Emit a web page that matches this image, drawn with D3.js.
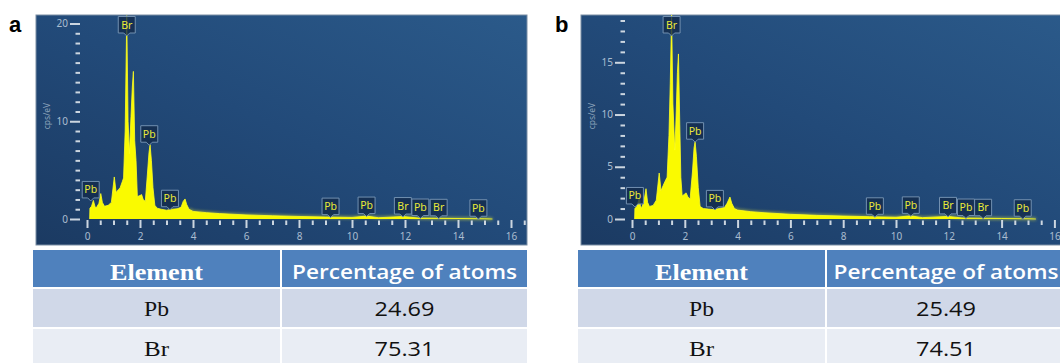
<!DOCTYPE html>
<html>
<head>
<meta charset="utf-8">
<script src="https://cdn.jsdelivr.net/npm/d3@7"></script>
<style>
  body { margin: 0; background: #fff; }
  svg { display: block; }
</style>
</head>
<body>
<svg id="chart" width="1060" height="363"></svg>
<script>
// spectrum a (keV / cps per eV)
const energyA = [0.10, 0.11, 0.17, 0.24, 0.30, 0.34, 0.45, 0.52, 0.58, 0.66, 0.80, 0.92, 1.03, 1.10, 1.18, 1.25, 1.33, 1.38,
  1.44, 1.50, 1.55, 1.60, 1.66, 1.71, 1.75, 1.80, 1.85, 1.90, 2.00, 2.06, 2.12, 2.20, 2.28, 2.34, 2.38, 2.43, 2.49, 2.56,
  2.65, 2.80, 3.00, 3.20, 3.40, 3.55, 3.63, 3.70, 3.76, 3.85, 4.00, 4.50, 5.00, 6.00, 7.00, 8.00, 9.00, 10.0, 10.55, 11.0,
  11.92, 12.5, 13.0, 14.0, 15.0, 15.3];
const cpsA = [0, 1.1, 1.3, 1.9, 1.3, 1.1, 1.6, 2.6, 1.7, 1.3, 1.4, 1.7, 4.3, 2.7, 3.0, 3.2, 3.8, 4.2,
  9.0, 20.8, 10.0, 6.7, 10.5, 13.5, 15.1, 8.0, 6.0, 2.3, 2.4, 2.5, 2.0, 1.8, 4.6, 6.8, 7.6, 6.0, 3.2, 1.4,
  1.1, 1.0, 0.9, 1.0, 1.05, 1.2, 1.8, 2.05, 1.5, 1.0, 0.78, 0.65, 0.55, 0.42, 0.33, 0.26, 0.2, 0.16, 0.3, 0.13,
  0.25, 0.1, 0.08, 0.05, 0.02, 0];

// spectrum b
const energyB = [0.10, 0.11, 0.18, 0.28, 0.32, 0.36, 0.46, 0.53, 0.59, 0.66, 0.80, 0.92, 1.03, 1.10, 1.18, 1.25, 1.33, 1.40,
  1.45, 1.50, 1.55, 1.62, 1.66, 1.72, 1.76, 1.81, 1.85, 1.90, 2.00, 2.05, 2.12, 2.20, 2.29, 2.35, 2.39, 2.44, 2.51, 2.58,
  2.70, 2.90, 3.10, 3.30, 3.50, 3.60, 3.71, 3.78, 3.88, 4.00, 4.50, 5.00, 6.00, 7.00, 8.00, 9.00, 10.0, 10.56, 11.0,
  11.97, 12.5, 13.0, 14.0, 15.0, 15.3];
const cpsB = [0, 1.0, 1.2, 2.0, 1.3, 1.0, 1.8, 2.9, 1.6, 1.2, 1.3, 1.8, 4.4, 2.7, 3.2, 3.6, 4.0, 8.0,
  13.0, 19.6, 11.0, 6.6, 9.0, 14.0, 15.8, 9.0, 4.0, 2.2, 2.4, 2.5, 2.1, 1.9, 4.5, 6.8, 7.4, 6.0, 3.0, 1.2,
  1.0, 0.95, 0.9, 1.0, 1.1, 1.5, 2.1, 1.5, 1.0, 0.85, 0.7, 0.6, 0.45, 0.35, 0.28, 0.22, 0.17, 0.3, 0.13,
  0.25, 0.1, 0.08, 0.05, 0.02, 0];

// peak labels
const peakElements = ['Pb', 'Br', 'Pb', 'Pb', 'Pb', 'Pb', 'Br', 'Pb', 'Br', 'Pb'];
const peakEnergiesA = [0.14, 1.50, 2.35, 3.13, 9.19, 10.55, 11.92, 12.58, 13.27, 14.77];
const peakEnergiesB = [0.11, 1.50, 2.39, 3.14, 9.20, 10.56, 11.97, 12.65, 13.30, 14.80];

// ticks
const xTickLabels = [0, 2, 4, 6, 8, 10, 12, 14, 16];
const yTicksA = [0, 10, 20];
const yTicksB = [0, 5, 10, 15];

// table
const tableHeader = ['Element', 'Percentage of atoms'];
const tableElements = ['Pb', 'Br'];
const percentA = ['24.69', '75.31'];
const percentB = ['25.49', '74.51'];

const svg = d3.select('#chart');
const defs = svg.append('defs');

const grad = defs.append('linearGradient')
  .attr('id', 'bg')
  .attr('x1', 0).attr('y1', 1).attr('x2', 1).attr('y2', 0);
grad.append('stop').attr('offset', 0).attr('stop-color', '#1b3a62');
grad.append('stop').attr('offset', 0.5).attr('stop-color', '#224a79');
grad.append('stop').attr('offset', 1).attr('stop-color', '#2b5a8a');

const glow = defs.append('filter').attr('id', 'glow')
  .attr('x', '-10%').attr('y', '-50%').attr('width', '120%').attr('height', '200%');
glow.append('feGaussianBlur').attr('stdDeviation', 1.4);

const panels = [
  { letter: 'a', letterX: 9, left: 36, right: 527, top: 15, bottom: 245,
    xRange: [87, 511], yDomain: [0, 20], yRange: [219, 23.5], yTicks: yTicksA,
    energy: energyA, cps: cpsA, peaks: peakEnergiesA,
    tLeft: 33, tSplit: 281, tRight: 527, col2Center: 404.5, percent: percentA },
  { letter: 'b', letterX: 555, left: 581, right: 1072, top: 15, bottom: 245,
    xRange: [632, 1054.4], yDomain: [0, 15], yRange: [219, 62.3], yTicks: yTicksB,
    energy: energyB, cps: cpsB, peaks: peakEnergiesB,
    tLeft: 578, tSplit: 826, tRight: 1072, col2Center: 946, percent: percentB }
];

panels.forEach((p, pi) => {
  const g = svg.append('g');
  const spectrum = p.energy.map((e, i) => [e, p.cps[i]]);

  const x = d3.scaleLinear().domain([0, 16]).range(p.xRange);
  const y = d3.scaleLinear().domain(p.yDomain).range(p.yRange);
  const yMax = y.invert(p.top);

  g.append('text')
    .attr('x', p.letterX).attr('y', 32)
    .style('font', 'bold 22px "Liberation Sans", Arial, sans-serif')
    .attr('fill', '#000')
    .text(p.letter);

  // plot background
  g.append('rect')
    .attr('x', p.left).attr('y', p.top)
    .attr('width', p.right - p.left).attr('height', p.bottom - p.top)
    .attr('fill', 'url(#bg)')
    .attr('stroke', '#7b8ea4').attr('stroke-width', 1);

  const clipId = 'clip' + pi;
  defs.append('clipPath').attr('id', clipId)
    .append('rect')
    .attr('x', p.left).attr('y', p.top)
    .attr('width', p.right - p.left).attr('height', p.bottom - p.top);

  const plot = g.append('g').attr('clip-path', `url(#${clipId})`);

  // spectrum
  const area = d3.area()
    .x(d => x(d[0]))
    .y0(y(0))
    .y1(d => y(d[1]));
  const line = d3.line()
    .x(d => x(d[0]))
    .y(d => y(d[1]));

  plot.append('path')
    .datum(spectrum.filter(d => d[0] >= 3.8))
    .attr('d', line)
    .attr('fill', 'none')
    .attr('stroke', '#ffff30')
    .attr('stroke-width', 2.5)
    .attr('opacity', 0.5)
    .attr('filter', 'url(#glow)');

  plot.append('path')
    .datum(spectrum)
    .attr('d', area)
    .attr('fill', '#fafa00');

  plot.append('path')
    .datum(spectrum)
    .attr('d', line)
    .attr('fill', 'none')
    .attr('stroke', '#ffff20')
    .attr('stroke-width', 0.8);

  // x axis: minor ticks every 0.5 keV, labelled majors
  const xMinor = g.append('g')
    .attr('transform', `translate(0, 220.5)`)
    .call(d3.axisBottom(x).tickValues(d3.range(0, 16.51, 0.5)).tickSize(4.5).tickFormat(''));
  const xMajor = g.append('g')
    .attr('transform', `translate(0, 220)`)
    .call(d3.axisBottom(x).tickValues(xTickLabels).tickSize(8).tickPadding(5).tickFormat(d3.format('d')));

  // y axis
  const axisX = p.xRange[0] - 7;
  const yMinor = g.append('g')
    .attr('transform', `translate(${axisX}, 0)`)
    .call(d3.axisLeft(y).tickValues(d3.range(0, Math.floor(yMax) + 1)).tickSize(4.5).tickFormat(''));
  const yMajor = g.append('g')
    .attr('transform', `translate(${axisX}, 0)`)
    .call(d3.axisLeft(y).tickValues(p.yTicks).tickSize(10).tickPadding(2).tickFormat(d3.format('d')));

  [xMinor, xMajor, yMinor, yMajor].forEach(ax => {
    ax.select('.domain').remove();
    ax.selectAll('.tick line').attr('stroke', '#ccd6e0').attr('stroke-width', 2);
    ax.selectAll('.tick text')
      .attr('fill', '#aabdd0')
      .style('font', '10px "Noto Sans", "DejaVu Sans", sans-serif');
  });
  // the minor ticks at the labelled positions are covered by the long ones
  xMinor.selectAll('.tick').filter(d => xTickLabels.includes(d)).remove();
  yMinor.selectAll('.tick').filter(d => p.yTicks.includes(d)).remove();

  g.append('text')
    .attr('transform', `translate(${p.left + 14}, 116) rotate(-90)`)
    .attr('text-anchor', 'middle')
    .attr('fill', '#8ea5bc')
    .style('font', '8.5px "Noto Sans", "DejaVu Sans", sans-serif')
    .text('cps/eV');

  // peak label boxes
  const valueNear = e => {
    const inWin = spectrum.filter(d => Math.abs(d[0] - e) <= 0.1).map(d => d[1]);
    const i = d3.bisector(d => d[0]).left(spectrum, e);
    const a = spectrum[Math.max(0, i - 1)], b = spectrum[Math.min(spectrum.length - 1, i)];
    const t = b[0] === a[0] ? 0 : (e - a[0]) / (b[0] - a[0]);
    return Math.max(a[1] + t * (b[1] - a[1]), ...inWin);
  };

  const bw = 17, bh = 16.5;
  const labels = g.selectAll('.peak')
    .data(p.peaks.map((e, i) => ({ e, el: peakElements[i] })))
    .enter()
    .append('g')
    .attr('class', 'peak')
    .attr('transform', d => {
      const cx = x(d.e);
      const bottom = Math.max(y(valueNear(d.e)) - 2.5, p.top + 1.5 + bh);
      return `translate(${cx}, ${bottom})`;
    });

  labels.append('path')
    .attr('d', `M${-bw / 2},${-bh} H${bw / 2} V0 H3 L0,3 L-3,0 H${-bw / 2} Z`)
    .attr('fill', '#132b4b')
    .attr('fill-opacity', 0.8)
    .attr('stroke', '#7290b0')
    .attr('stroke-width', 1);

  labels.append('text')
    .attr('x', 0).attr('y', -4.5)
    .attr('text-anchor', 'middle')
    .attr('fill', '#eaea38')
    .style('font', '10.5px "Noto Sans", "DejaVu Sans", sans-serif')
    .text(d => d.el);

  // element table
  const rows = [
    { y0: 250, y1: 287, fill: '#4f81bd', cells: tableHeader, header: true },
    { y0: 289, y1: 327, fill: '#d0d8e8', cells: [tableElements[0], p.percent[0]] },
    { y0: 329, y1: 369, fill: '#e9edf4', cells: [tableElements[1], p.percent[1]] }
  ];
  const col1 = [p.tLeft, p.tSplit - 1];
  const col2 = [p.tSplit + 1, p.tRight];

  rows.forEach((r, ri) => {
    g.append('rect').attr('x', col1[0]).attr('y', r.y0)
      .attr('width', col1[1] - col1[0]).attr('height', r.y1 - r.y0).attr('fill', r.fill);
    g.append('rect').attr('x', col2[0]).attr('y', r.y0)
      .attr('width', col2[1] - col2[0]).attr('height', r.y1 - r.y0).attr('fill', r.fill);

    const c1 = (col1[0] + col1[1]) / 2;
    const c2 = p.col2Center;
    if (r.header) {
      g.append('text').attr('x', c1).attr('y', 280)
        .attr('text-anchor', 'middle').attr('fill', '#fff')
        .attr('textLength', 93).attr('lengthAdjust', 'spacingAndGlyphs')
        .style('font', 'bold 23px "Liberation Serif", "Times New Roman", serif')
        .text(r.cells[0]);
      g.append('text').attr('x', c2).attr('y', 278.5)
        .attr('text-anchor', 'middle').attr('fill', '#fff')
        .attr('textLength', 225).attr('lengthAdjust', 'spacingAndGlyphs')
        .style('font', '600 20.5px "Open Sans", "Noto Sans", sans-serif')
        .text(r.cells[1]);
    } else {
      const base = ri === 1 ? 316 : 356;
      g.append('text').attr('x', c1).attr('y', base)
        .attr('text-anchor', 'middle').attr('fill', '#111')
        .attr('textLength', 25).attr('lengthAdjust', 'spacingAndGlyphs')
        .style('font', '22px "Liberation Serif", "Times New Roman", serif')
        .text(r.cells[0]);
      g.append('text').attr('x', c2).attr('y', base - 0.5)
        .attr('text-anchor', 'middle').attr('fill', '#111')
        .attr('textLength', 60).attr('lengthAdjust', 'spacingAndGlyphs')
        .style('font', '20.5px "Open Sans", "Noto Sans", sans-serif')
        .text(r.cells[1]);
    }
  });
});
</script>
</body>
</html>
